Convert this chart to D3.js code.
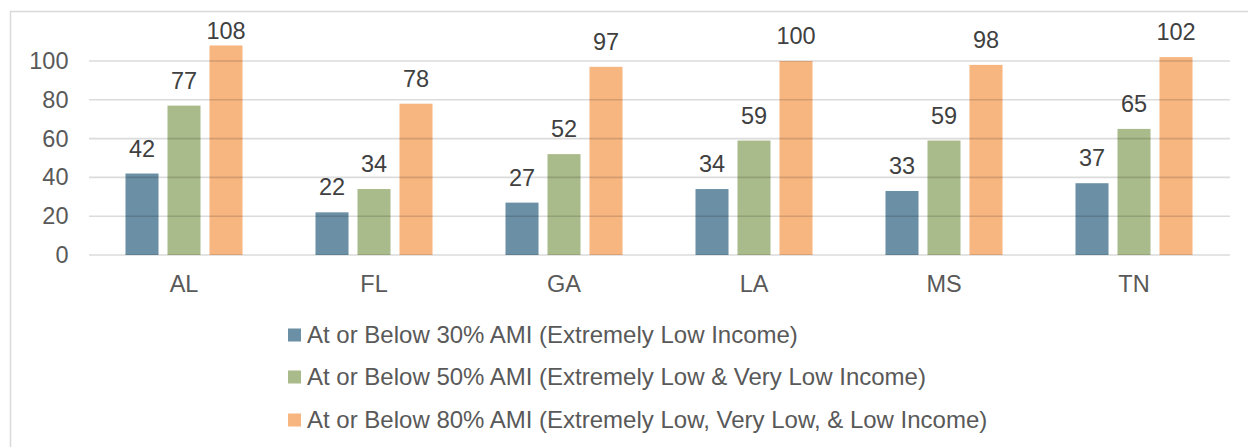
<!DOCTYPE html>
<html>
<head>
<meta charset="utf-8">
<script src="https://cdn.jsdelivr.net/npm/d3@7"></script>
<style>
  html, body { margin: 0; padding: 0; background: #fff; }
  svg { display: block; font-family: "Liberation Sans", Arial, sans-serif; }
</style>
</head>
<body>
<svg id="chart" width="1248" height="447"></svg>
<script>
// Housing counts by state for three income bands
const states = ["AL", "FL", "GA", "LA", "MS", "TN"];
const seriesNames = [
  "At or Below 30% AMI (Extremely Low Income)",
  "At or Below 50% AMI (Extremely Low & Very Low Income)",
  "At or Below 80% AMI (Extremely Low, Very Low, & Low Income)"
];
const ami30 = [42, 22, 27, 34, 33, 37];
const ami50 = [77, 34, 52, 59, 59, 65];
const ami80 = [108, 78, 97, 100, 98, 102];
const yTicks = [0, 20, 40, 60, 80, 100];

const seriesValues = [ami30, ami50, ami80];
const colors = ["#6b8fa4", "#a9bb8a", "#f7b580"];
const labelFont = "23.5px";
const legendFont = "24px";

const svg = d3.select("#chart");

// outer frame
svg.append("rect")
  .attr("x", 10.5).attr("y", 11.5)
  .attr("width", 1300).attr("height", 500)
  .attr("fill", "none").attr("stroke", "#d9d9d9").attr("stroke-width", 1.5);

const x0 = d3.scaleBand().domain(states).range([89, 1229]).padding(0);
const x1 = d3.scaleBand().domain(d3.range(3)).range([0, x0.bandwidth()])
  .paddingInner(0.214).paddingOuter(0.869);
const y = d3.scaleLinear().domain([0, 100]).range([255, 61]);

// bars
const groups = svg.append("g").selectAll("g")
  .data(states).join("g")
  .attr("transform", d => `translate(${x0(d)},0)`);

groups.selectAll("rect")
  .data((s, i) => seriesValues.map((vals, k) => ({ k, v: vals[i] })))
  .join("rect")
  .attr("x", d => x1(d.k))
  .attr("width", x1.bandwidth())
  .attr("y", d => y(d.v))
  .attr("height", d => y(0) - y(d.v))
  .attr("fill", d => colors[d.k]);

// gridlines drawn over the bars
svg.append("g").selectAll("line")
  .data(yTicks).join("line")
  .attr("x1", 89).attr("x2", 1230)
  .attr("y1", d => y(d)).attr("y2", d => y(d))
  .attr("stroke", "#000").attr("stroke-opacity", 0.14).attr("stroke-width", 1.6);

// y axis labels
const yAxis = d3.axisLeft(y).tickValues(yTicks).tickSize(0).tickPadding(0);
svg.append("g")
  .attr("transform", "translate(68.5,0)")
  .call(yAxis)
  .call(g => g.select(".domain").remove())
  .call(g => g.selectAll("text")
    .attr("fill", "#595959").style("font-size", labelFont)
    .style("font-family", "Liberation Sans, Arial, sans-serif"));

// category labels
const xAxis = d3.axisBottom(x0).tickSize(0).tickPadding(0);
svg.append("g")
  .attr("transform", "translate(0,275)")
  .call(xAxis)
  .call(g => g.select(".domain").remove())
  .call(g => g.selectAll("text")
    .attr("fill", "#595959").style("font-size", labelFont)
    .style("font-family", "Liberation Sans, Arial, sans-serif"));

// value labels sit above each bar, kept inside the plot's top edge
const labelGap = 17;
const minBaseline = 39;
groups.selectAll("text.val")
  .data((s, i) => seriesValues.map((vals, k) => ({ k, v: vals[i] })))
  .join("text")
  .attr("class", "val")
  .attr("x", d => x1(d.k) + x1.bandwidth() / 2)
  .attr("y", d => Math.max(y(d.v) - labelGap, minBaseline))
  .attr("text-anchor", "middle")
  .attr("fill", "#404040")
  .style("font-size", labelFont)
  .text(d => d.v);

// legend
const legend = svg.append("g").selectAll("g")
  .data(seriesNames).join("g")
  .attr("transform", (d, i) => `translate(288,${[335, 377, 420][i]})`);
legend.append("rect")
  .attr("x", 0).attr("y", -6.5).attr("width", 13).attr("height", 13)
  .attr("fill", (d, i) => colors[i]);
legend.append("text")
  .attr("x", 19).attr("y", 0).attr("dy", "0.35em")
  .attr("fill", "#595959").style("font-size", legendFont)
  .text(d => d);
</script>
</body>
</html>
